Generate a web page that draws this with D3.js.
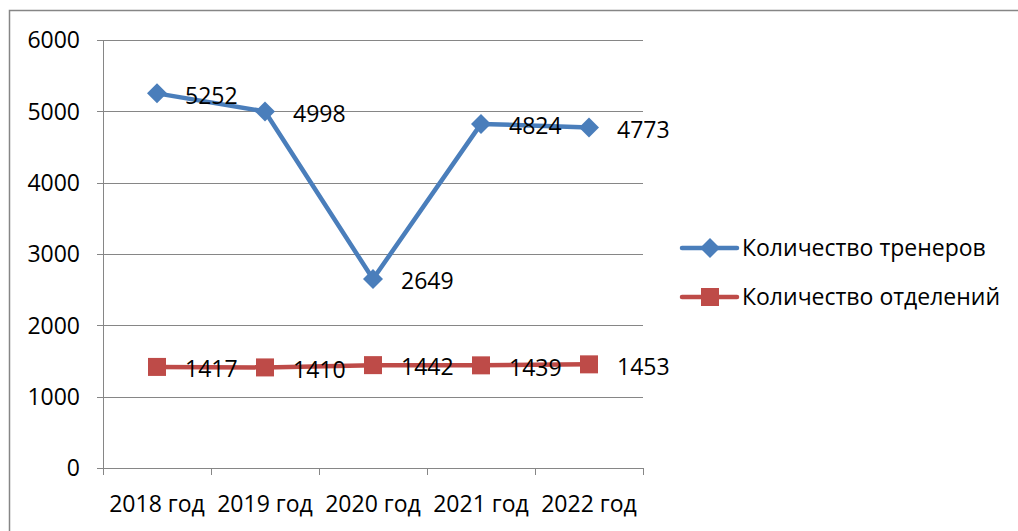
<!DOCTYPE html>
<html><head><meta charset="utf-8">
<script src="https://cdn.jsdelivr.net/npm/d3@7"></script>
<style>body{margin:0;background:#fff}svg{display:block}</style>
</head><body>
<script>
const categories = ["2018 год","2019 год","2020 год","2021 год","2022 год"];
const trainers = [5252, 4998, 2649, 4824, 4773];
const departments = [1417, 1410, 1442, 1439, 1453];
const yTicks = [0,1000,2000,3000,4000,5000,6000];
const seriesNames = ["Количество тренеров","Количество отделений"];
const colors = ["#4a7ebb","#be4b48"];

(function(){
const W=1018,H=531;
const svg=d3.select("body").append("svg").attr("width",W).attr("height",H);
const font="'Open Sans', 'Liberation Sans', sans-serif";
const fs=23;
const gray="#868686";

svg.append("rect").attr("x",9.5).attr("y",10.5).attr("width",1200).attr("height",700)
  .attr("fill","none").attr("stroke",gray).attr("stroke-width",1.5);

const pL=103,pR=643,pT=40,pB=468;
const x=d3.scaleBand().domain(categories).range([pL,pR]);
const y=d3.scaleLinear().domain([0,6000]).range([pB,pT]);

svg.append("g").selectAll("line").data(yTicks).join("line")
  .attr("x1",pL-6).attr("x2",pR).attr("y1",d=>Math.round(y(d))+0.5).attr("y2",d=>Math.round(y(d))+0.5)
  .attr("stroke",gray).attr("stroke-width",1);
svg.append("line").attr("x1",pL+0.5).attr("x2",pL+0.5).attr("y1",pT).attr("y2",pB)
  .attr("stroke",gray);
svg.append("g").selectAll("text").data(yTicks).join("text")
  .attr("x",80).attr("y",d=>y(d)).attr("dy","0.36em").attr("text-anchor","end")
  .attr("font-family",font).attr("font-size",fs).text(d=>d);
const xt=categories.map(c=>x(c)).concat([pR]);
svg.append("g").selectAll("line").data(xt).join("line")
  .attr("x1",d=>Math.round(d)+0.5).attr("x2",d=>Math.round(d)+0.5).attr("y1",pB).attr("y2",pB+7)
  .attr("stroke",gray);
svg.append("g").selectAll("text").data(categories).join("text")
  .attr("x",d=>x(d)+x.bandwidth()/2).attr("y",512).attr("text-anchor","middle")
  .attr("font-family",font).attr("font-size",fs).text(d=>d);

const cx=d=>x(d)+x.bandwidth()/2;
const line=d3.line().x(d=>cx(d.c)).y(d=>y(d.v));
const series=[trainers,departments].map((vals,i)=>vals.map((v,j)=>({c:categories[j],v,i})));

function marker(g,i,px,py){
  if(i===0){
    g.append("path").attr("d",`M${px},${py-10}L${px+10},${py}L${px},${py+10}L${px-10},${py}Z`).attr("fill",colors[0]);
  } else {
    g.append("rect").attr("x",px-9).attr("y",py-9).attr("width",18).attr("height",18).attr("fill",colors[1]);
  }
}

series.forEach((s,i)=>{
  svg.append("path").datum(s).attr("d",line).attr("fill","none").attr("stroke",colors[i])
    .attr("stroke-width",4.5).attr("stroke-linejoin","round");
  const g=svg.append("g");
  s.forEach(d=>marker(g,i,cx(d.c),y(d.v)));
  svg.append("g").selectAll("text").data(s).join("text")
    .attr("x",d=>cx(d.c)+28).attr("y",d=>y(d.v)+2).attr("dy","0.36em")
    .attr("font-family",font).attr("font-size",fs).text(d=>d.v);
});

const ly=[248,297];
seriesNames.forEach((n,i)=>{
  const g=svg.append("g");
  g.append("line").attr("x1",682).attr("x2",737).attr("y1",ly[i]).attr("y2",ly[i])
    .attr("stroke",colors[i]).attr("stroke-width",4.5).attr("stroke-linecap","round");
  marker(g,i,710,ly[i]);
  g.append("text").attr("x",742).attr("y",ly[i]).attr("dy","0.36em")
    .attr("font-family",font).attr("font-size",fs).text(n);
});
})();
</script>
</body></html>
